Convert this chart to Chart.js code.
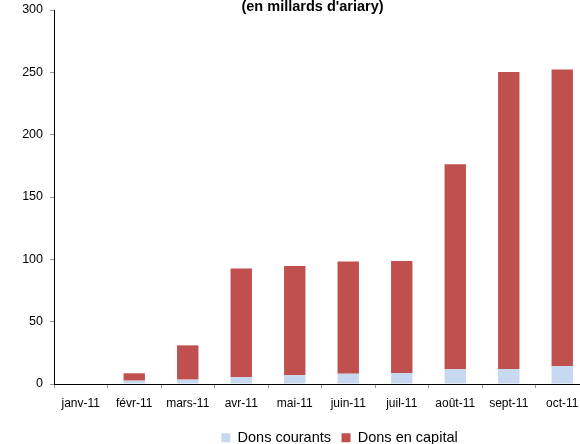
<!DOCTYPE html>
<html>
<head>
<meta charset="utf-8">
<script src="https://cdn.jsdelivr.net/npm/chart.js@4/dist/chart.umd.min.js"></script>
<style>
  html, body { margin: 0; padding: 0; background: #fff; overflow: hidden; width: 580px; height: 444px; }
  #wrap { position: absolute; left: 0; top: 0; width: 679px; height: 455px; }
</style>
</head>
<body>
<div id="wrap"><canvas id="c" width="679" height="455"></canvas></div>
<script>
const titleText = "(en millards d'ariary)";
const categories = ['janv-11', 'févr-11', 'mars-11', 'avr-11', 'mai-11', 'juin-11', 'juil-11', 'août-11', 'sept-11', 'oct-11'];
const donsCourants = [0, 2.7, 3.5, 5.5, 7.2, 8.3, 8.8, 11.8, 12.0, 14.4];
const donsCapital = [0, 5.9, 27.5, 87.2, 87.4, 90.0, 89.8, 164.5, 238.3, 237.8];
const yTicks = [0, 50, 100, 150, 200, 250, 300];

const FONT = "'Liberation Sans', Arial, sans-serif";

const titlePlugin = {
  id: 'cutTitle',
  afterDraw(chart) {
    const ctx = chart.ctx;
    ctx.save();
    ctx.font = "bold 14.5px " + FONT;
    ctx.fillStyle = '#000';
    ctx.textAlign = 'center';
    ctx.textBaseline = 'alphabetic';
    ctx.fillText(titleText, 312.5, 11);
    ctx.restore();
  }
};

new Chart(document.getElementById('c'), {
  type: 'bar',
  data: {
    labels: categories,
    datasets: [
      { label: 'Dons courants', data: donsCourants, backgroundColor: '#C6D9F1', borderWidth: 0,
        barPercentage: 0.4, categoryPercentage: 1.0 },
      { label: 'Dons en capital', data: donsCapital, backgroundColor: '#C0504D', borderWidth: 0,
        barPercentage: 0.4, categoryPercentage: 1.0 }
    ]
  },
  options: {
    responsive: false,
    animation: false,
    devicePixelRatio: 1,
    layout: { padding: { top: 10, left: 0, right: 0, bottom: 0 } },
    plugins: {
      title: { display: false },
      tooltip: { enabled: false },
      legend: {
        position: 'bottom',
        labels: {
          boxWidth: 9, boxHeight: 9, padding: 10.5,
          color: '#000',
          font: { family: FONT, size: 14.5 }
        }
      }
    },
    scales: {
      x: {
        stacked: true,
        grid: { display: true, drawOnChartArea: false, drawTicks: true, tickLength: 4, color: '#999', offset: true },
        border: { display: true, color: '#000', width: 1 },
        ticks: { color: '#000', font: { family: FONT, size: 12 }, padding: 8, maxRotation: 0, autoSkip: false },
        afterFit(s) { s.height = 36; s.paddingLeft = 0; s.paddingRight = 0; }
      },
      y: {
        stacked: true,
        min: 0, max: 300,
        afterBuildTicks(s) { s.ticks = yTicks.map(v => ({ value: v })); },
        grid: { display: true, drawOnChartArea: false, drawTicks: true, tickLength: 4, color: '#999' },
        border: { display: true, color: '#000', width: 1 },
        ticks: { color: '#000', font: { family: FONT, size: 12.5 }, padding: 7 },
        afterFit(s) { s.width = 54; s.paddingTop = 0; s.paddingBottom = 0; }
      },
      yRight: {
        type: 'linear',
        position: 'right',
        display: true,
        grid: { display: false },
        border: { display: false },
        ticks: { display: false },
        afterFit(s) { s.width = 90; s.paddingTop = 0; s.paddingBottom = 0; }
      }
    }
  },
  plugins: [titlePlugin]
});
</script>
</body>
</html>
